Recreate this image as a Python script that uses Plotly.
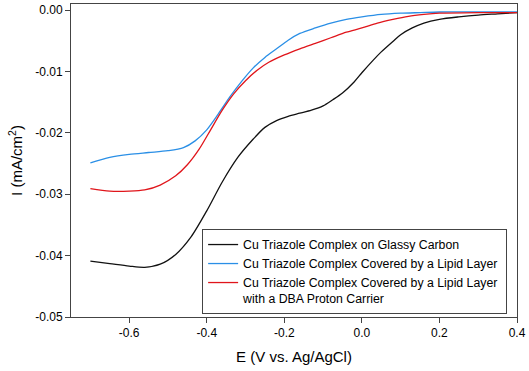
import plotly.graph_objects as go

# Data
black_x = [-0.70, -0.65, -0.60, -0.56, -0.52, -0.48, -0.44, -0.40, -0.36, -0.32, -0.28, -0.25,
           -0.22, -0.19, -0.16, -0.13, -0.10, -0.075, -0.05, -0.02, 0.0, 0.03, 0.05, 0.08,
           0.10, 0.13, 0.16, 0.20, 0.25, 0.30, 0.35, 0.40]
black_y = [-0.0409, -0.0413, -0.0417, -0.0419, -0.0414, -0.0398, -0.0369, -0.0327, -0.0280,
           -0.0240, -0.0210, -0.0191, -0.0180, -0.0173, -0.0168, -0.0163, -0.0156, -0.0146,
           -0.0135, -0.0117, -0.0102, -0.0081, -0.0068, -0.0051, -0.0040, -0.0029, -0.0021,
           -0.0015, -0.0011, -0.0008, -0.0006, -0.0004]

blue_x = [-0.70, -0.65, -0.60, -0.55, -0.50, -0.46, -0.43, -0.40, -0.37, -0.34, -0.31, -0.28,
          -0.25, -0.22, -0.19, -0.16, -0.12, -0.08, -0.04, 0.0, 0.05, 0.10, 0.15, 0.20, 0.30, 0.40]
blue_y = [-0.0249, -0.0240, -0.0235, -0.0232, -0.0229, -0.0224, -0.0213, -0.0195, -0.0169,
          -0.0141, -0.0116, -0.0094, -0.0077, -0.0063, -0.0049, -0.0038, -0.0029, -0.0021,
          -0.0015, -0.0011, -0.0007, -0.0005, -0.0004, -0.0003, -0.0003, -0.0003]

red_x = [-0.70, -0.65, -0.60, -0.56, -0.52, -0.48, -0.45, -0.42, -0.39, -0.36, -0.33, -0.30,
         -0.27, -0.24, -0.20, -0.16, -0.12, -0.08, -0.04, 0.0, 0.04, 0.08, 0.12, 0.16, 0.20,
         0.30, 0.40]
red_y = [-0.0291, -0.0295, -0.0295, -0.0293, -0.0285, -0.0270, -0.0252, -0.0227, -0.0195,
         -0.0163, -0.0136, -0.0115, -0.0098, -0.0085, -0.0073, -0.0063, -0.0054, -0.0045,
         -0.0036, -0.0029, -0.0021, -0.0015, -0.0010, -0.0007, -0.0005, -0.0004, -0.0004]

names = ["Cu Triazole Complex on Glassy Carbon",
         "Cu Triazole Complex Covered by a Lipid Layer\u00a0",
         "Cu Triazole Complex Covered by a Lipid Layer<br>with a DBA Proton Carrier"]

x_ticks = [-0.6, -0.4, -0.2, 0.0, 0.2, 0.4]
x_tick_labels = ["-0.6", "-0.4", "-0.2", "0.0", "0.2", "0.4"]
y_ticks = [0.0, -0.01, -0.02, -0.03, -0.04, -0.05]
y_tick_labels = ["0.00", "-0.01", "-0.02", "-0.03", "-0.04", "-0.05"]

fig = go.Figure()
for xs, ys, nm, col in [(black_x, black_y, names[0], "#111111"),
                        (blue_x, blue_y, names[1], "#2a8fe6"),
                        (red_x, red_y, names[2], "#e0151b")]:
    fig.add_trace(go.Scatter(x=xs, y=ys, name=nm, mode="lines",
                             line=dict(color=col, width=1.3, shape="spline", smoothing=0.8)))

axis_common = dict(showgrid=False, zeroline=False, showline=True, linecolor="#444444",
                   linewidth=1, mirror=True, ticks="outside", ticklen=5, tickcolor="#444444",
                   tickfont=dict(family="Arial, Liberation Sans", size=12, color="black"))

fig.update_layout(
    width=529, height=371,
    margin=dict(l=71, r=12, t=4, b=54),
    paper_bgcolor="white", plot_bgcolor="white",
    font=dict(family="Arial, Liberation Sans", color="black"),
    showlegend=True,
    legend=dict(x=0.294, y=0.281, xanchor="left", yanchor="top",
                bordercolor="#444444", borderwidth=1, bgcolor="white",
                font=dict(size=12.3, color="black"), itemwidth=30, valign="top",
                tracegroupgap=0),
    xaxis=dict(range=[-0.75, 0.4], tickvals=x_ticks, ticktext=x_tick_labels,
               title=dict(text="E (V vs. Ag/AgCl)", font=dict(size=15), standoff=12),
               **axis_common),
    yaxis=dict(range=[-0.05, 0.001], tickvals=y_ticks, ticktext=y_tick_labels,
               title=dict(text="I (mA/cm<sup>2</sup>)", font=dict(size=15), standoff=8),
               **axis_common),
)

fig.write_html("out.html", config={"displayModeBar": False},
               post_script="document.body.style.margin='0';document.body.style.overflow='hidden';")
